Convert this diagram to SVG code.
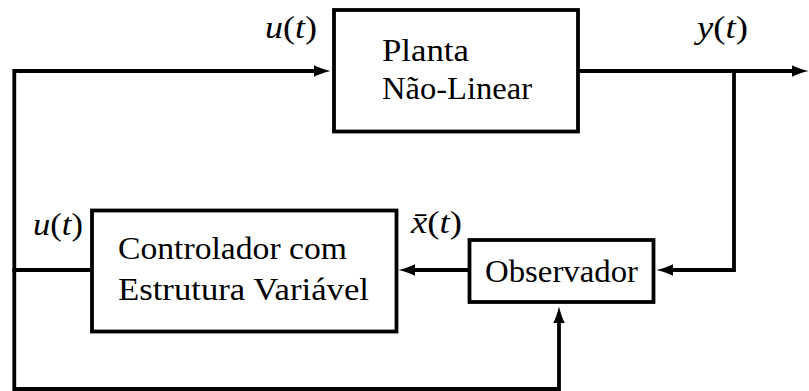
<svg xmlns="http://www.w3.org/2000/svg" width="809" height="391" viewBox="0 0 809 391">
  <style>
    .box { fill: #fff; stroke: #000; stroke-width: 3.8; }
    .wire { fill: none; stroke: #000; stroke-width: 3.8; stroke-linecap: butt; stroke-linejoin: miter; }
    .txt { font-family: 'Liberation Serif', 'DejaVu Serif', 'Times New Roman', serif; font-size: 31px; fill: #000; }
    .it { font-style: italic; }
  </style>
  <defs>
    <marker id="arrow" viewBox="0 -6 17 12" refX="6" refY="0" markerWidth="17" markerHeight="12" markerUnits="userSpaceOnUse" orient="auto">
      <path d="M0,-5.8 Q6,-2.5 16.5,0 Q6,2.5 0,5.8 Z" fill="#000"/>
    </marker>
  </defs>

  <!-- connectors -->
  <g id="connectors">
    <!-- loop: controller output back to plant input -->
    <path class="wire" d="M92,270 H14.3 V71 H320" marker-end="url(#arrow)"/>
    <!-- plant output -->
    <path class="wire" d="M578,71 H798" marker-end="url(#arrow)"/>
    <!-- output tap to observer -->
    <path class="wire" d="M734,71 V270 H667" marker-end="url(#arrow)"/>
    <!-- observer estimate to controller -->
    <path class="wire" d="M469.5,270 H409" marker-end="url(#arrow)"/>
    <!-- control signal to observer -->
    <path class="wire" d="M14.3,268 V389 H559 V317" marker-end="url(#arrow)"/>
  </g>

  <!-- nodes -->
  <g id="planta">
    <rect class="box" x="334" y="10" width="244" height="121.5"/>
    <text class="txt" x="382" y="61" textLength="87" lengthAdjust="spacingAndGlyphs">Planta</text>
    <text class="txt" x="382" y="99" textLength="150" lengthAdjust="spacingAndGlyphs">Não-Linear</text>
  </g>

  <g id="controlador">
    <rect class="box" x="92" y="210.5" width="304.5" height="121"/>
    <text class="txt" x="118" y="259" textLength="229" lengthAdjust="spacingAndGlyphs">Controlador com</text>
    <text class="txt" x="118" y="300" textLength="251" lengthAdjust="spacingAndGlyphs">Estrutura Variável</text>
  </g>

  <g id="observador">
    <rect class="box" x="469.5" y="240" width="184" height="62"/>
    <text class="txt" x="485" y="282" textLength="153" lengthAdjust="spacingAndGlyphs">Observador</text>
  </g>

  <!-- signal labels -->
  <g id="labels">
    <text class="txt" x="265" y="38" textLength="52" lengthAdjust="spacingAndGlyphs"><tspan class="it">u</tspan>(<tspan class="it">t</tspan>)</text>
    <text class="txt" x="697" y="38" textLength="51" lengthAdjust="spacingAndGlyphs"><tspan class="it">y</tspan>(<tspan class="it">t</tspan>)</text>
    <text class="txt" x="33" y="235" textLength="50" lengthAdjust="spacingAndGlyphs"><tspan class="it">u</tspan>(<tspan class="it">t</tspan>)</text>
    <text class="txt" x="411" y="233" textLength="51" lengthAdjust="spacingAndGlyphs"><tspan class="it">x̄</tspan>(<tspan class="it">t</tspan>)</text>
  </g>
</svg>
